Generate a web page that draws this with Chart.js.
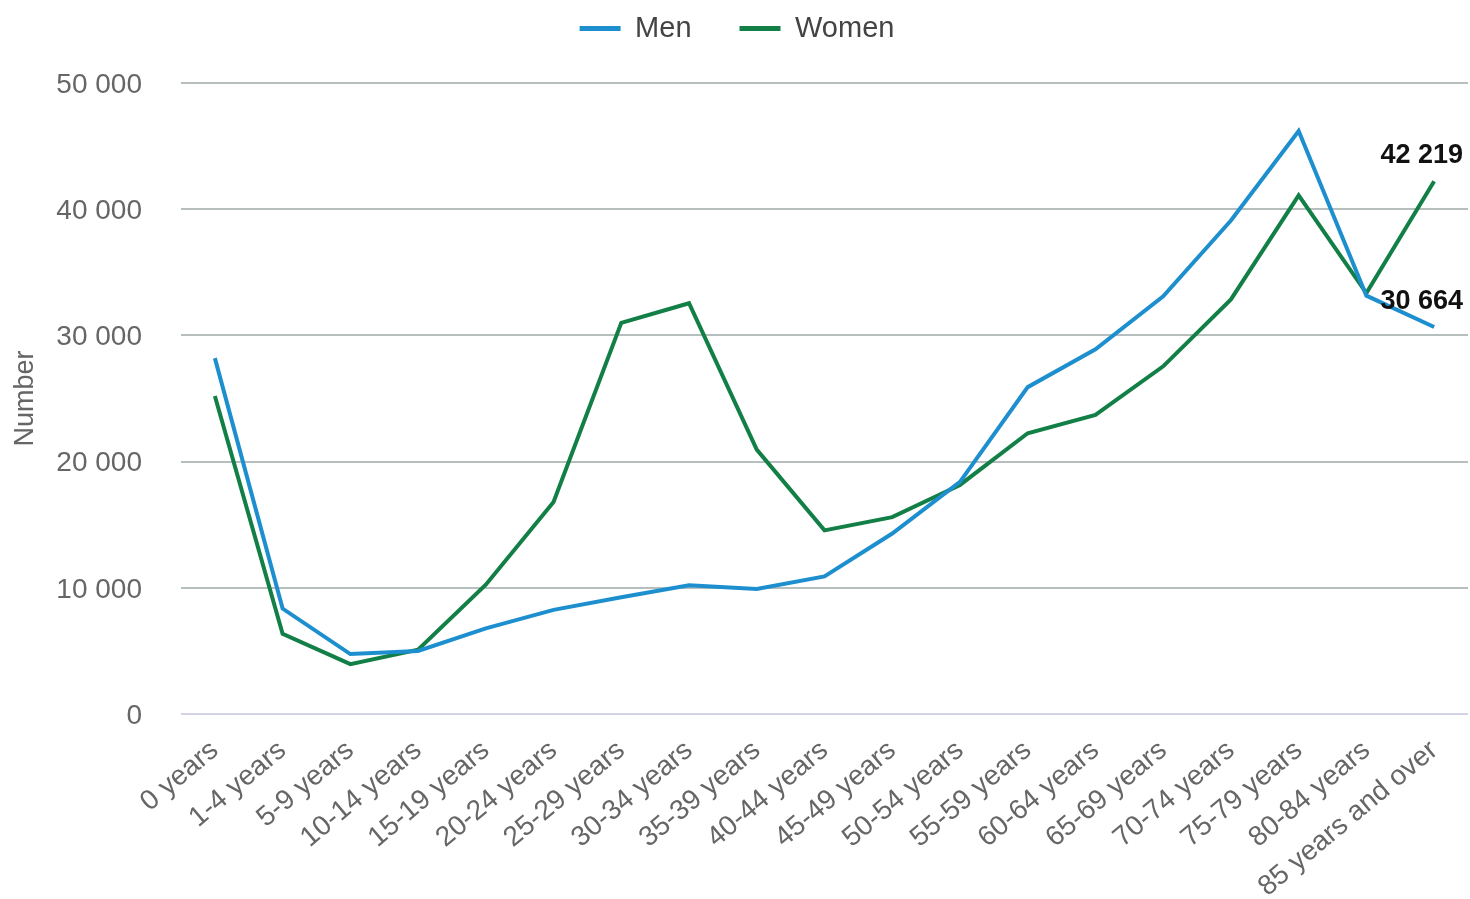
<!DOCTYPE html>
<html>
<head>
<meta charset="utf-8">
<script src="https://cdn.jsdelivr.net/npm/chart.js@4.4.1/dist/chart.umd.min.js"></script>
<style>
  html, body { margin: 0; padding: 0; background: #ffffff; }
  canvas { display: block; }
</style>
</head>
<body>
<canvas id="chart" width="1470" height="899"></canvas>
<script>
// Age groups on the x axis
const ageGroups = [
  '0 years', '1-4 years', '5-9 years', '10-14 years', '15-19 years',
  '20-24 years', '25-29 years', '30-34 years', '35-39 years', '40-44 years',
  '45-49 years', '50-54 years', '55-59 years', '60-64 years', '65-69 years',
  '70-74 years', '75-79 years', '80-84 years', '85 years and over'
];

// Number of persons per age group
const men = [28200, 8350, 4750, 5000, 6780, 8250, 9250, 10200, 9900, 10900,
             14300, 18400, 25900, 28900, 33100, 39100, 46200, 33150, 30664];
const women = [25200, 6350, 3950, 5100, 10250, 16800, 31000, 32550, 20950, 14550,
               15600, 18150, 22250, 23700, 27550, 32850, 41100, 33350, 42219];

// Value axis ticks
const yTicks = [0, 10000, 20000, 30000, 40000, 50000];

const fmt = v => Math.round(v).toString().replace(/\B(?=(\d{3})+(?!\d))/g, ' ');

const FONT = "'Liberation Sans', Arial, Helvetica, sans-serif";

// Extra room between the legend and the plot area
const legendSpacing = {
  id: 'legendSpacing',
  beforeInit(chart) {
    const baseFit = chart.legend.fit;
    chart.legend.fit = function () {
      baseFit.call(this);
      this.height += 30;
    };
  }
};

// Labels the last value of each series
const endLabels = {
  id: 'endLabels',
  afterDatasetsDraw(chart) {
    const ctx = chart.ctx;
    ctx.save();
    ctx.font = 'bold 27px ' + FONT;
    ctx.fillStyle = '#111111';
    ctx.textBaseline = 'alphabetic';
    ctx.textAlign = 'left';
    chart.data.datasets.forEach((ds, i) => {
      const meta = chart.getDatasetMeta(i);
      const last = ds.data.length - 1;
      const pt = meta.data[last];
      const text = fmt(ds.data[last]);
      const w = ctx.measureText(text).width;
      let x = pt.x - w / 2;
      if (x + w > chart.width - 7) x = chart.width - 7 - w;
      ctx.fillText(text, x, pt.y - 18);
    });
    ctx.restore();
  }
};

new Chart(document.getElementById('chart'), {
  type: 'line',
  data: {
    labels: ageGroups,
    datasets: [
      {
        label: 'Men',
        data: men,
        borderColor: '#1d8fcf',
        backgroundColor: '#1d8fcf',
        borderWidth: 4,
        pointRadius: 0,
        tension: 0
      },
      {
        label: 'Women',
        data: women,
        borderColor: '#127f46',
        backgroundColor: '#127f46',
        borderWidth: 4,
        pointRadius: 0,
        tension: 0
      }
    ]
  },
  options: {
    responsive: false,
    animation: false,
    devicePixelRatio: 1,
    layout: { padding: { top: -34, left: 6, right: 2, bottom: 0 } },
    plugins: {
      tooltip: { enabled: false },
      legend: {
        position: 'top',
        labels: {
          usePointStyle: true,
          pointStyle: 'line',
          pointStyleWidth: 41,
          padding: 48,
          color: '#444444',
          font: { family: FONT, size: 29 },
          generateLabels(chart) {
            return Chart.defaults.plugins.legend.labels.generateLabels(chart)
              .map(item => Object.assign(item, { lineWidth: 5 }));
          }
        }
      }
    },
    scales: {
      x: {
        offset: true,
        grid: { display: false },
        border: { display: false },
        ticks: {
          autoSkip: false,
          minRotation: 40,
          maxRotation: 40,
          padding: 12,
          color: '#666666',
          font: { family: FONT, size: 28 }
        },
        afterFit(scale) { scale.height = 185; }
      },
      y: {
        min: 0,
        max: 50000,
        afterBuildTicks(scale) { scale.ticks = yTicks.map(v => ({ value: v })); },
        grid: {
          drawTicks: false,
          lineWidth: 2,
          color: c => (c.tick && c.tick.value === 0) ? '#d2d3e4' : '#b7bebe'
        },
        border: { display: false },
        ticks: {
          padding: 39,
          labelOffset: 2,
          color: '#666666',
          font: { family: FONT, size: 28 },
          callback: v => fmt(v)
        },
        title: {
          display: true,
          text: 'Number',
          color: '#666666',
          font: { family: FONT, size: 27 },
          padding: { top: 3, bottom: 4 }
        },
        afterFit(scale) { scale.width = 175; }
      }
    }
  },
  plugins: [legendSpacing, endLabels]
});
</script>
</body>
</html>
